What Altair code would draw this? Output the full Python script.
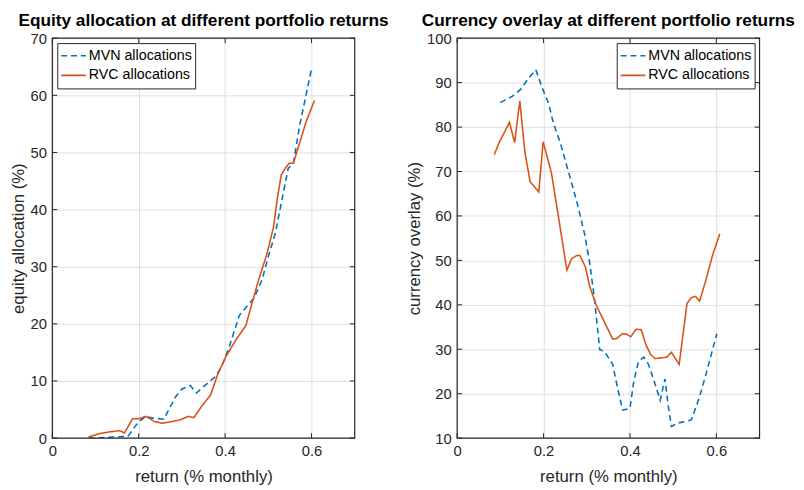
import altair as alt
import pandas as pd

# ---- data ----
eq_mvn_x = [0.084, 0.175, 0.200, 0.217, 0.232, 0.258, 0.285, 0.300, 0.319, 0.334, 0.353, 0.376, 0.391,
            0.410, 0.433, 0.452, 0.467, 0.486, 0.500, 0.516, 0.531, 0.546, 0.558, 0.573, 0.588, 0.599]
eq_mvn_y = [0.0, 0.3, 2.9, 3.8, 3.5, 3.3, 7.2, 8.6, 9.2, 7.9, 9.2, 10.7, 12.3,
            16.1, 21.5, 23.2, 24.5, 27.8, 31.8, 35.8, 41.5, 47.2, 48.1, 54.9, 60.3, 64.3]
eq_rvc_x = [0.084, 0.110, 0.133, 0.156, 0.167, 0.186, 0.200, 0.217, 0.236, 0.255, 0.277, 0.296, 0.315,
            0.328, 0.345, 0.366, 0.383, 0.402, 0.425, 0.448, 0.463, 0.478, 0.497, 0.512, 0.520, 0.530,
            0.539, 0.548, 0.558, 0.573, 0.588, 0.607]
eq_rvc_y = [0.2, 0.8, 1.1, 1.3, 0.9, 3.4, 3.4, 3.8, 2.9, 2.6, 2.9, 3.2, 3.8,
            3.6, 5.5, 7.5, 11.2, 14.3, 17.2, 19.7, 23.8, 27.8, 32.3, 36.9, 41.5, 46.1,
            47.2, 48.1, 48.1, 51.8, 55.5, 59.1]

cu_mvn_x = [0.100, 0.129, 0.148, 0.163, 0.182, 0.197, 0.212, 0.223, 0.239, 0.258, 0.277, 0.295, 0.307,
            0.318, 0.330, 0.341, 0.360, 0.371, 0.383, 0.400, 0.409, 0.420, 0.432, 0.443, 0.458, 0.470,
            0.481, 0.489, 0.496, 0.511, 0.527, 0.542, 0.561, 0.580, 0.601]
cu_mvn_y = [85.5, 87.0, 88.6, 90.7, 92.9, 88.8, 85.2, 80.8, 76.4, 69.8, 63.2, 55.9, 49.3,
            41.2, 29.9, 29.5, 26.6, 21.4, 16.3, 16.7, 22.9, 27.3, 28.2, 26.6, 22.2, 18.5,
            23.3, 17.0, 12.6, 13.4, 13.7, 14.1, 19.2, 25.8, 33.5]
cu_rvc_x = [0.086, 0.098, 0.110, 0.121, 0.133, 0.145, 0.157, 0.169, 0.189, 0.199, 0.218, 0.235, 0.254,
            0.265, 0.277, 0.284, 0.297, 0.307, 0.322, 0.341, 0.360, 0.369, 0.383, 0.392, 0.402, 0.414,
            0.426, 0.437, 0.448, 0.458, 0.485, 0.496, 0.514, 0.532, 0.542, 0.552, 0.561, 0.576, 0.591, 0.608]
cu_rvc_y = [73.8, 76.7, 78.9, 81.1, 76.5, 85.9, 74.2, 67.7, 65.4, 76.7, 69.8, 59.5, 47.8,
            50.4, 51.1, 51.1, 48.5, 44.1, 39.9, 36.1, 32.3, 32.4, 33.5, 33.4, 32.8, 34.5,
            34.4, 31.0, 28.8, 27.9, 28.2, 29.3, 26.6, 40.3, 41.6, 41.9, 40.8, 45.6, 51.1, 56.0]

series_names = ["MVN allocations", "RVC allocations"]
series_colors = ["#0072BD", "#D95319"]
x_ticks = [0, 0.2, 0.4, 0.6]
eq_y_ticks = [0, 10, 20, 30, 40, 50, 60, 70]
cu_y_ticks = [10, 20, 30, 40, 50, 60, 70, 80, 90, 100]

W, H = 307, 406
FONT = "Liberation Sans"
DARK = "#262626"
TL = 5  # inward tick length


def frame(xs, ys, name):
    return pd.DataFrame({"x": xs, "y": ys, "s": name, "o": range(len(xs))})


def panel(mvn_x, mvn_y, rvc_x, rvc_y, ydom, yticks, ytitle, title, legend_orient):
    df = pd.concat([frame(mvn_x, mvn_y, series_names[0]), frame(rvc_x, rvc_y, series_names[1])])
    xs = alt.Scale(domain=[0, 0.7], nice=False)
    ys = alt.Scale(domain=ydom, nice=False)
    lines = alt.Chart(df).mark_line(strokeWidth=1.6, clip=True).encode(
        x=alt.X("x:Q", scale=xs,
                axis=alt.Axis(values=x_ticks, title="return (% monthly)", format="~g",
                              ticks=False, tickSize=0, domain=False, labelPadding=6, titlePadding=10,
                              labelFlush=False, labelOverlap=False)),
        y=alt.Y("y:Q", scale=ys,
                axis=alt.Axis(values=yticks, title=ytitle, ticks=False, tickSize=0, domain=False,
                              labelPadding=6, titlePadding=3, labelFlush=False, labelOverlap=False)),
        color=alt.Color("s:N", scale=alt.Scale(domain=series_names, range=series_colors),
                        legend=alt.Legend(title=None, orient=legend_orient, offset=5)),
        strokeDash=alt.StrokeDash("s:N", scale=alt.Scale(domain=series_names, range=[[6, 4], [1, 0]]),
                                  legend=alt.Legend(title=None, orient=legend_orient, offset=5)),
        order="o:Q",
    )
    xt = pd.DataFrame({"v": x_ticks})
    yt = pd.DataFrame({"v": yticks})
    tick_x_b = alt.Chart(xt).mark_rule(color=DARK, strokeWidth=1).encode(
        x=alt.X("v:Q", scale=xs), y=alt.value(H), y2=alt.value(H - TL))
    tick_x_t = alt.Chart(xt).mark_rule(color=DARK, strokeWidth=1).encode(
        x=alt.X("v:Q", scale=xs), y=alt.value(0), y2=alt.value(TL))
    tick_y_l = alt.Chart(yt).mark_rule(color=DARK, strokeWidth=1).encode(
        y=alt.Y("v:Q", scale=ys), x=alt.value(0), x2=alt.value(TL))
    tick_y_r = alt.Chart(yt).mark_rule(color=DARK, strokeWidth=1).encode(
        y=alt.Y("v:Q", scale=ys), x=alt.value(W - TL), x2=alt.value(W))
    border = alt.Chart(pd.DataFrame({"b": [0]})).mark_rect(
        filled=False, stroke=DARK, strokeWidth=1.2).encode(
        x=alt.value(0), x2=alt.value(W), y=alt.value(0), y2=alt.value(H))
    return alt.layer(lines, tick_x_b, tick_x_t, tick_y_l, tick_y_r, border).properties(
        width=W, height=H,
        title=alt.TitleParams(title, fontSize=17.5, fontWeight="bold", font=FONT, color="black",
                              offset=2),
    )


left = panel(eq_mvn_x, eq_mvn_y, eq_rvc_x, eq_rvc_y, [0, 70], eq_y_ticks,
             "equity allocation (%)", "Equity allocation at different portfolio returns", "top-left")
right = panel(cu_mvn_x, cu_mvn_y, cu_rvc_x, cu_rvc_y, [10, 100], cu_y_ticks,
              "currency overlay (%)", "Currency overlay at different portfolio returns", "top-right")

chart = alt.hconcat(left, right, spacing=16).resolve_scale(
    color="independent", strokeDash="independent"
).resolve_legend(color="independent", strokeDash="independent").properties(
    padding={"left": 1, "top": 0, "right": 0, "bottom": 0}
).configure_view(stroke=None).configure_axis(
    gridColor="#dedede", gridWidth=1, labelFont=FONT, titleFont=FONT, labelFontSize=15,
    titleFontSize=17, labelColor=DARK, titleColor=DARK, titleFontWeight="normal"
).configure_legend(
    symbolType="stroke", symbolSize=625, symbolStrokeWidth=1.6, labelFont=FONT, labelFontSize=14.5,
    labelColor="black", fillColor="white", strokeColor=DARK, padding=3, rowPadding=0,
    labelOffset=2, symbolOffset=0, clipHeight=19.5, offset=5
)

chart.save("out.html", embed_options={"renderer": "svg", "actions": False})
